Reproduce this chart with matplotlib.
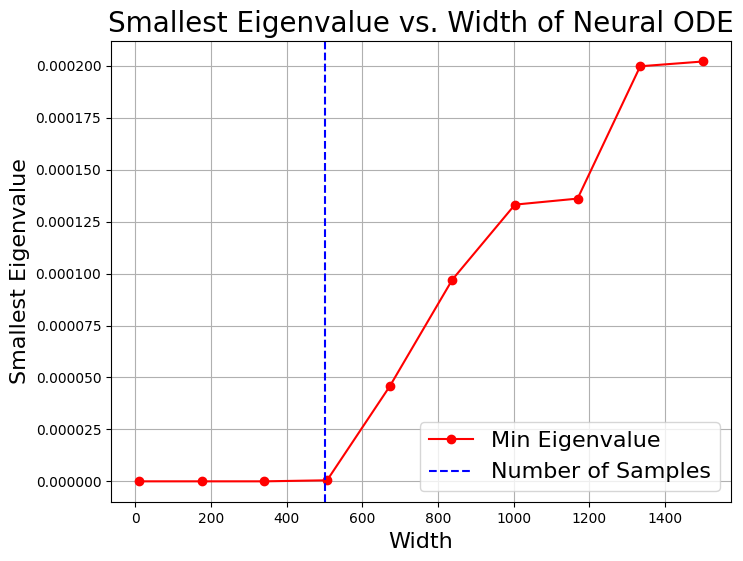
import numpy as np
import matplotlib
matplotlib.use('Agg')
import matplotlib.pyplot as plt

# widths tested and the smallest eigenvalue found at each
widths = [10, 175.6, 341.1, 506.7, 672.2, 837.8, 1003.3, 1168.9, 1334.4, 1500]
min_eig = [0.0, 0.0, 0.0, 5e-7, 4.57e-5, 9.71e-5, 1.332e-4, 1.361e-4, 1.998e-4, 2.021e-4]
n_samples = 500

fig = plt.figure(figsize=(7.43, 5.61), dpi=100)
ax = fig.add_axes([0.1494, 0.1046, 0.8345, 0.8232])

ax.plot(widths, min_eig, 'ro-', label='Min Eigenvalue')
ax.axvline(x=n_samples, color='b', linestyle='--', label='Number of Samples')

ax.set_title('Smallest Eigenvalue vs. Width of Neural ODE', fontsize=20)
ax.set_xlabel('Width', fontsize=16)
ax.set_ylabel('Smallest Eigenvalue', fontsize=16)
ax.ticklabel_format(axis='y', style='plain', useOffset=False)
ax.legend(fontsize=16, loc='lower right')
ax.grid(True)

fig.savefig('out.png', dpi=100)
